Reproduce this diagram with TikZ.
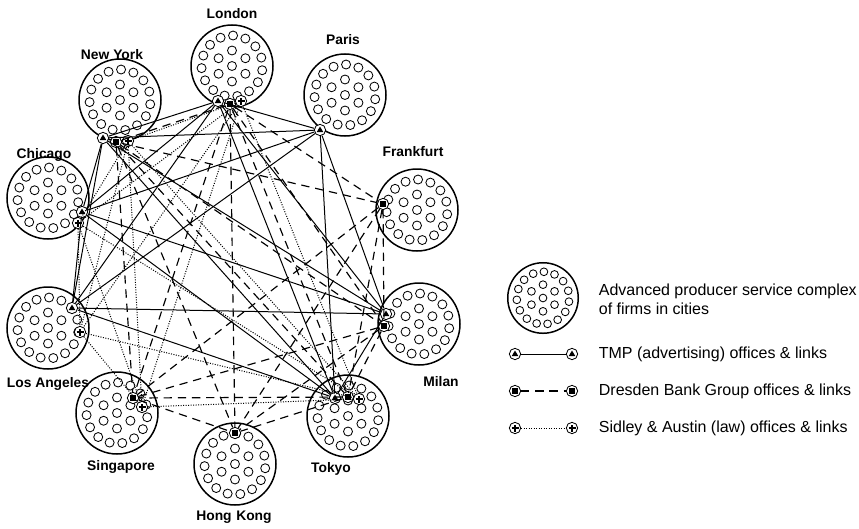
\documentclass[tikz,border=0pt]{standalone}
\usepackage{fontspec}
\setmainfont{Liberation Sans}
\usetikzlibrary{positioning}

\begin{document}
\begin{tikzpicture}[x=0.6pt, y=-0.6pt,
    complex/.pic={
        \draw[line width=0.9pt] (0,0) circle (41);
        \foreach \a in {0,...,14} \draw[line width=0.5pt] (\a*24+8:30.5) circle (4.5);
        \foreach \a in {0,...,5} \draw[line width=0.5pt] (\a*60+30:15.5) circle (4.5);
        \draw[line width=0.5pt] (0,0) circle (4.5);
    },
    city/.style={font=\fontsize{8.3}{9}\selectfont\bfseries},
    key/.style={font=\fontsize{9.6}{11.5}\selectfont, anchor=west, align=left},
    office/.style={circle, draw, fill=white, inner sep=0pt, minimum size=6.8pt, line width=0.5pt},
    tmp/.style={office, path picture={\fill[black] ([yshift=2.1pt]path picture bounding box.center) -- ++(-2pt,-3.4pt) -- ++(4pt,0pt) -- cycle;}},
    dresden/.style={office, path picture={\fill[black] (path picture bounding box.center) +(-1.8pt,-1.8pt) rectangle +(1.8pt,1.8pt);}},
    sidley/.style={office, path picture={\draw[black, line width=0.7pt] (path picture bounding box.center) +(-2.1pt,0pt) -- +(2.1pt,0pt) +(0pt,-2.1pt) -- +(0pt,2.1pt);}},
    tmplink/.style={line width=0.6pt},
    dresdenlink/.style={line width=0.7pt, dash pattern=on 5pt off 3.5pt},
    sidleylink/.style={line width=0.6pt, dash pattern=on 0.6pt off 0.9pt}
]
\useasboundingbox (0,0) rectangle (859,528);

% city complexes
\pic at (232,66) {complex};
\pic at (345,95) {complex};
\pic at (120,100) {complex};
\pic at (48,198) {complex};
\pic at (417,210) {complex};
\pic at (419,324) {complex};
\pic at (348,416) {complex};
\pic at (235,464) {complex};
\pic at (117,413) {complex};
\pic at (48,328) {complex};

\node[city] (london) at (232,14) {London};
\node[city] (paris) at (343,40) {Paris};
\node[city] (newyork) at (112,55) {New York};
\node[city] (chicago) at (44,155) {Chicago};
\node[city] (frankfurt) at (413,152) {Frankfurt};
\node[city] (milan) at (441,382) {Milan};
\node[city] (tokyo) at (331,469) {Tokyo};
\node[city] (hongkong) at (234,517) {Hong\,\,Kong};
\node[city] (singapore) at (121,467) {Singapore};
\node[city] (losangeles) at (48,384) {Los Angeles};

% offices
\node[tmp] (lon-t) at (218,101) {};
\node[tmp] (par-t) at (320,130) {};
\node[tmp] (ny-t) at (103,138) {};
\node[tmp] (chi-t) at (82,212) {};
\node[tmp] (la-t) at (72,308) {};
\node[tmp] (mil-t) at (386,314) {};
\node[tmp] (tok-t) at (335,398) {};

\node[dresden] (lon-d) at (230,104) {};
\node[dresden] (ny-d) at (116,142) {};
\node[dresden] (fra-d) at (383,204) {};
\node[dresden] (mil-d) at (384,326) {};
\node[dresden] (tok-d) at (348,397) {};
\node[dresden] (sin-d) at (133,398) {};
\node[dresden] (hk-d) at (235,433) {};

\node[sidley] (lon-s) at (241,101) {};
\node[sidley] (ny-s) at (128,141) {};
\node[sidley] (chi-s) at (78,223) {};
\node[sidley] (la-s) at (80,332) {};
\node[sidley] (sin-s) at (142,407) {};
\node[sidley] (tok-s) at (359,399) {};

% links
\foreach \a [count=\i] in {lon,par,ny,chi,la,mil,tok}
    \foreach \b [count=\j] in {lon,par,ny,chi,la,mil,tok}
        {\ifnum\j>\i \draw[tmplink] (\a-t) -- (\b-t); \fi}
\foreach \a [count=\i] in {lon,ny,fra,mil,tok,sin,hk}
    \foreach \b [count=\j] in {lon,ny,fra,mil,tok,sin,hk}
        {\ifnum\j>\i \draw[dresdenlink] (\a-d) -- (\b-d); \fi}
\foreach \a [count=\i] in {lon,ny,chi,la,sin,tok}
    \foreach \b [count=\j] in {lon,ny,chi,la,sin,tok}
        {\ifnum\j>\i \draw[sidleylink] (\a-s) -- (\b-s); \fi}

% key
\pic[scale=0.86] at (543,298) {complex};
\node[key] (key-c) at (593,299) {Advanced producer service complex\\of firms in cities};
\node[tmp] (key-t1) at (515,354) {};
\node[tmp] (key-t2) at (572,354) {};
\draw[tmplink] (key-t1) -- (key-t2);
\node[key] (key-tmp) at (593,354) {TMP (advertising) offices \& links};
\node[dresden] (key-d1) at (515,391) {};
\node[dresden] (key-d2) at (572,391) {};
\draw[dresdenlink] (key-d1) -- (key-d2);
\node[key] (key-dresden) at (593,391) {Dresden Bank Group offices \& links};
\node[sidley] (key-s1) at (515,428) {};
\node[sidley] (key-s2) at (572,428) {};
\draw[sidleylink] (key-s1) -- (key-s2);
\node[key] (key-sidley) at (593,428) {Sidley \& Austin (law) offices \& links};
\end{tikzpicture}
\end{document}
